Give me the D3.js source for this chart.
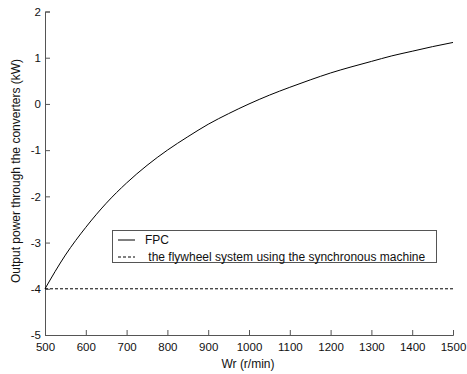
<!DOCTYPE html>
<html><head><meta charset="utf-8">
<script src="https://cdn.jsdelivr.net/npm/d3@7"></script>
<style>
html,body{margin:0;padding:0;background:#fff;}
svg{display:block;font-family:"Liberation Sans",Arial,sans-serif;}
</style></head>
<body><svg id="c" width="467" height="374"></svg>
<script>
const speeds = [500,550,600,650,700,750,800,850,900,950,1000,1050,1100,1150,1200,1250,1300,1350,1400,1450,1500];
const fpcPower = [-4.00,-3.27,-2.67,-2.15,-1.71,-1.33,-1.00,-0.71,-0.44,-0.21,0.00,0.19,0.36,0.52,0.67,0.80,0.92,1.04,1.14,1.24,1.33];
const syncSpeeds = [500,1500];
const syncPower = [-4,-4];
const xTicks = [500,600,700,800,900,1000,1100,1200,1300,1400,1500];
const yTicks = [-5,-4,-3,-2,-1,0,1,2];
const legendLabels = ["FPC"," the flywheel system using the synchronous machine"];

const svg = d3.select("#c");
const x = d3.scaleLinear().domain([500,1500]).range([45,453]);
const y = d3.scaleLinear().domain([-5,2]).range([335,11.5]);

const fmt = d => String(d);
const xAxis = d3.axisBottom(x).tickValues(xTicks).tickSize(-5).tickPadding(8).tickFormat(fmt);
const yAxis = d3.axisLeft(y).tickValues(yTicks).tickSize(-5).tickPadding(4).tickFormat(fmt);

const gx = svg.append("g").attr("transform","translate(0,335)").call(xAxis);
const gy = svg.append("g").attr("transform","translate(45,0)").call(yAxis);
[gx,gy].forEach(g=>{
  g.select(".domain").attr("stroke","#555");
  g.selectAll(".tick line").attr("stroke","#555");
  g.selectAll(".tick text").attr("fill","#111").style("font-size","11.5px").style("font-family","'Liberation Sans',Arial,sans-serif");
});

const line = d3.line().x(d=>x(d[0])).y(d=>y(d[1]));
svg.append("path").datum(speeds.map((s,i)=>[s,fpcPower[i]]))
  .attr("d",line.curve(d3.curveMonotoneX)).attr("fill","none").attr("stroke","#000").attr("stroke-width",1);
svg.append("path").datum(syncSpeeds.map((s,i)=>[s,syncPower[i]]))
  .attr("d",d3.line().x(d=>x(d[0])).y(d=>y(d[1]))).attr("fill","none").attr("stroke","#000").attr("stroke-width",1).attr("stroke-dasharray","3,2");

svg.append("text").attr("x",248).attr("y",368).attr("text-anchor","middle")
  .style("font-size","12px").attr("fill","#111").text("Wr (r/min)");
svg.append("text").attr("transform","translate(20,171) rotate(-90)").attr("text-anchor","middle")
  .style("font-size","12px").attr("fill","#111").text("Output power through the converters (kW)");

// legend
const lg = svg.append("g");
lg.append("rect").attr("x",112.5).attr("y",230.5).attr("width",324).attr("height",32)
  .attr("fill","#fff").attr("stroke","#555");
const rows=[240,257];
lg.append("line").attr("x1",118).attr("x2",135).attr("y1",rows[0]).attr("y2",rows[0]).attr("stroke","#000");
lg.append("line").attr("x1",118).attr("x2",135).attr("y1",rows[1]).attr("y2",rows[1]).attr("stroke","#000").attr("stroke-dasharray","3,2");
legendLabels.forEach((t,i)=>{
  lg.append("text").attr("x",145).attr("y",rows[i]+4).style("font-size","12px").attr("fill","#111")
   .attr("xml:space","preserve").style("white-space","pre").text(t);
});
</script></body></html>
